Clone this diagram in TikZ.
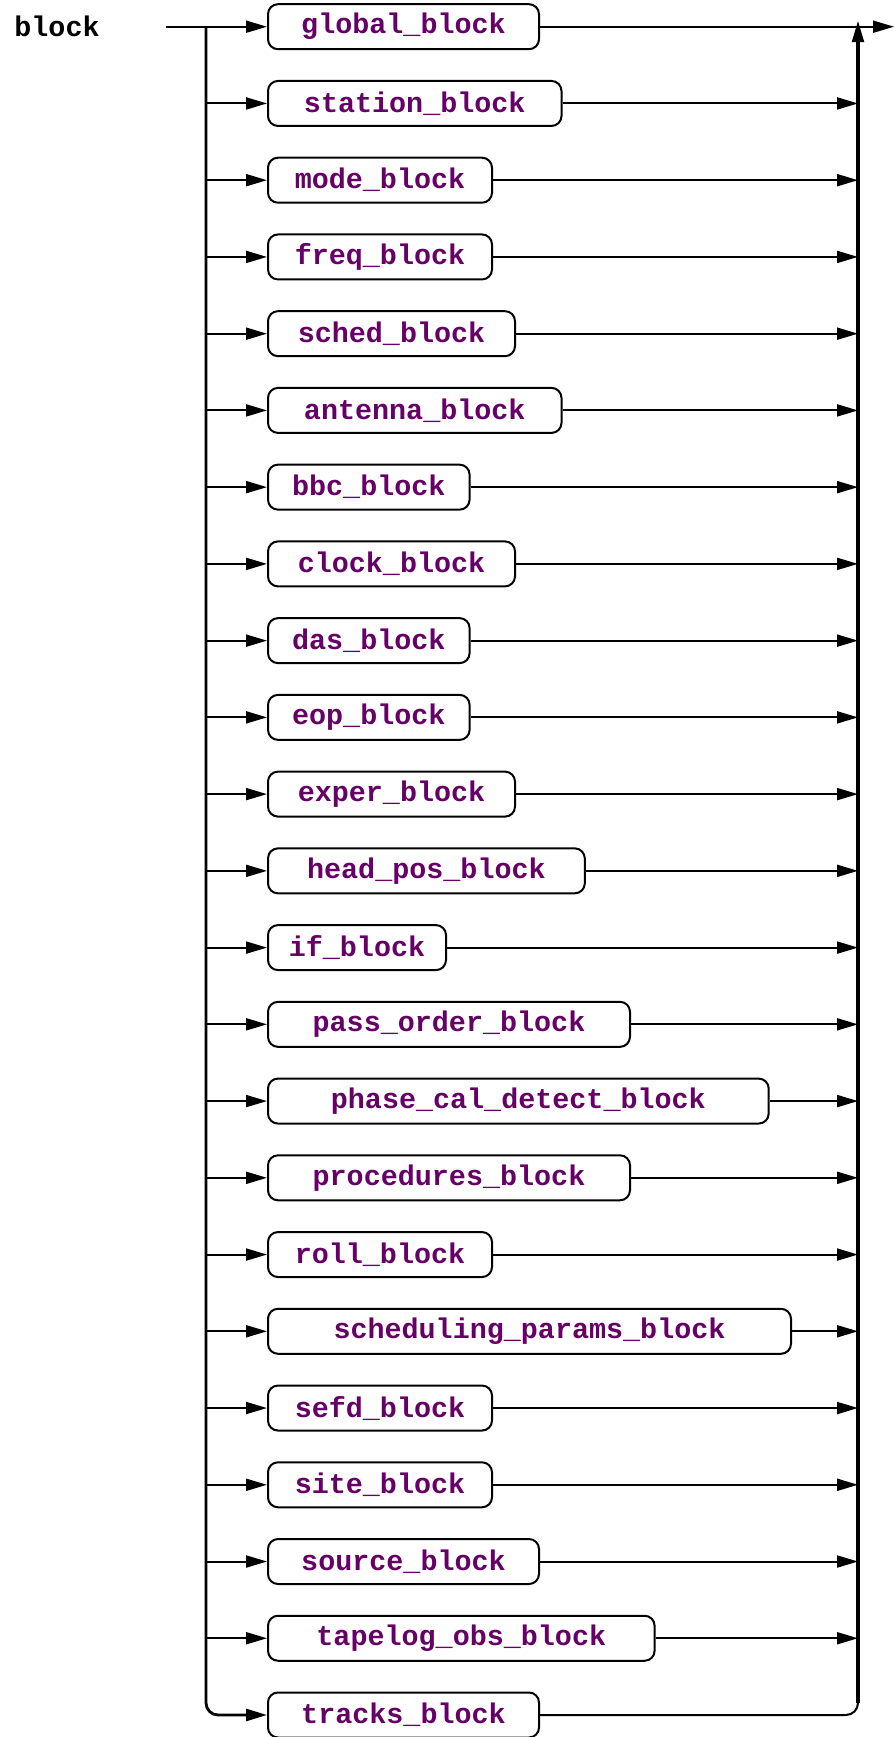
\documentclass[tikz,border=0pt]{standalone}
\usepackage{fontspec}
\setmonofont{Liberation Mono}
\usepackage{xcolor}
\usetikzlibrary{arrows.meta}
\definecolor{rrpurple}{RGB}{102,0,102}

\begin{document}
\begin{tikzpicture}[x=0.5pt, y=-0.5pt,
  font=\fontsize{14.2}{16}\selectfont\ttfamily\bfseries,
  blockbox/.style={draw, line width=1pt, rounded corners=5pt, text=rrpurple,
    minimum height=22.5pt, inner sep=0pt, anchor=west},
  flow/.style={line width=1pt, -{Triangle[length=10.5pt,width=6pt]}},
  rail/.style={flow, line width=1.4pt, rounded corners=6pt}]
  \useasboundingbox (0,0) rectangle (894,1737);
  \node[anchor=west, inner sep=0pt] (lbl) at (14,26.7) {block};
  % one box per alternative, widths in px
  \foreach \txt/\w [count=\i from 0] in {global\_block/271, station\_block/293.5,
      mode\_block/224, freq\_block/224, sched\_block/247, antenna\_block/293.5,
      bbc\_block/201.6, clock\_block/247, das\_block/201.6, eop\_block/201.6,
      exper\_block/247, head\_pos\_block/316.8, if\_block/178,
      pass\_order\_block/362, phase\_cal\_detect\_block/500.7,
      procedures\_block/362, roll\_block/224, scheduling\_params\_block/523,
      sefd\_block/224, site\_block/224, source\_block/271,
      tapelog\_obs\_block/386.6, tracks\_block/271} {
    \node[blockbox, minimum width=\w*0.5pt] (b\i) at (267,26.7+76.74*\i) {\txt};
  }
  \coordinate (in) at (166,26.7);
  \coordinate (jn) at (206,26.7);
  \coordinate (rt) at (858,21);
  \coordinate (out) at (894,26.7);
  \draw[flow] (in) -- (b0.west);
  \draw[flow] (b0.east) -- (out);
  \draw[rail] (jn) |- (b22.west);
  \draw[flow, rounded corners=6pt] (b22.east) -| (rt);
  % heavier right rail
  \draw[line width=1.6pt] ([yshift=6pt]b22.east -| rt) -- ([yshift=-10pt]rt);
  \foreach \i in {1,...,21} {
    \draw[flow] (b\i.west -| jn) -- (b\i.west);
    \draw[flow] (b\i.east) -- (b\i.east -| rt);
  }
\end{tikzpicture}
\end{document}
